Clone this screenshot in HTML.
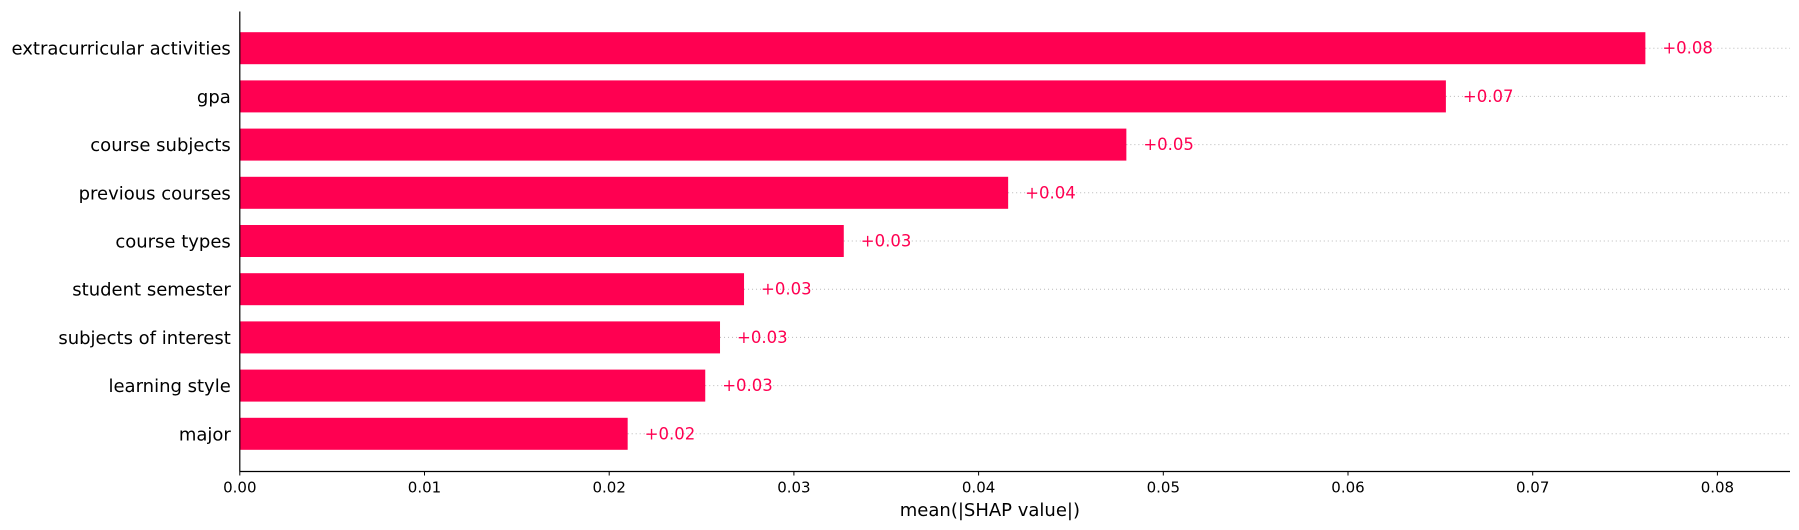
<!DOCTYPE html>
<html><head><meta charset="utf-8"><style>
html,body{margin:0;padding:0;background:#fff;}
svg{display:block;font-family:"DejaVu Sans","Liberation Sans",sans-serif;}
</style></head><body>
<svg id="chart" width="1799" height="530" viewBox="0 0 1799 530" xmlns="http://www.w3.org/2000/svg"></svg>
<script>
const features = ["extracurricular activities","gpa","course subjects","previous courses","course types","student semester","subjects of interest","learning style","major"];
const values = [0.0761,0.0653,0.0480,0.0416,0.0327,0.0273,0.0260,0.0252,0.0210];
const valueLabels = ["+0.08","+0.07","+0.05","+0.04","+0.03","+0.03","+0.03","+0.03","+0.02"];
const xTicks = [0,0.01,0.02,0.03,0.04,0.05,0.06,0.07,0.08];
const xTickLabels = ["0.00","0.01","0.02","0.03","0.04","0.05","0.06","0.07","0.08"];

const NS="http://www.w3.org/2000/svg";
const svg=document.getElementById('chart');
const X0=239.8, PER=18470, XR=1790, AXY=471.5, TOP=11.5, STEP=48.2, BH=32;
const xs=v=>X0+v*PER;
const ys=i=>STEP*(i+1);
function mk(tag,attrs,txt){const e=document.createElementNS(NS,tag);for(const k in attrs)e.setAttribute(k,attrs[k]);if(txt!==undefined)e.textContent=txt;svg.appendChild(e);return e;}

features.forEach((f,i)=>{
  const y=ys(i);
  const g=mk('line',{x1:xs(values[i]),x2:XR,y1:y,y2:y,stroke:'#b8b8b8','stroke-width':1,'stroke-dasharray':'1,3'});
  
  
  const b=mk('rect',{x:X0,y:y-BH/2,width:xs(values[i])-X0,height:BH,fill:'#ff0051'});
  
  
  const vl=mk('text',{x:xs(values[i])+17,y:y+5.5,fill:'#ff0051','font-size':16.5},valueLabels[i]);
  
  
  const yl=mk('text',{x:X0-9,y:y+6.5,'text-anchor':'end',fill:'#000','font-size':18},f);
  
  
});
const ya=mk('line',{x1:X0,x2:X0,y1:TOP,y2:AXY,stroke:'#000','stroke-width':1.2});


const xa=mk('line',{x1:X0,x2:XR,y1:AXY,y2:AXY,stroke:'#000','stroke-width':1.2});


xTicks.forEach((t,i)=>{
  const tk=mk('line',{x1:xs(t),x2:xs(t),y1:AXY,y2:AXY+4,stroke:'#000','stroke-width':1});
  
  
  const tl=mk('text',{x:xs(t),y:AXY+21,'text-anchor':'middle',fill:'#000','font-size':15},xTickLabels[i]);
  
  
});
const xt=mk('text',{x:(X0+XR)/2-25,y:516,'text-anchor':'middle',fill:'#000','font-size':18},'mean(|SHAP value|)');


</script>
</body></html>
